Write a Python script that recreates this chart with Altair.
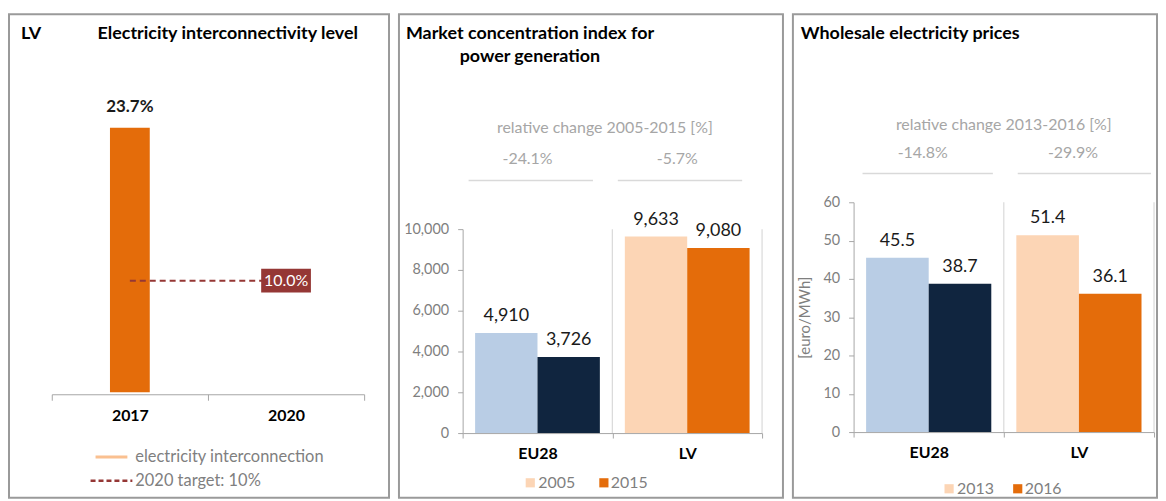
import altair as alt
import pandas as pd

FONT = "Lato"
H = 486

# ---------------- Panel 1 : Electricity interconnectivity level ----------------
p1_country = ["LV"]
p1_title = ["Electricity interconnectivity level"]
p1_categories = ["2017", "2020"]
p1_bar_categories = ["2017"]
p1_bar_values = [23.7]
p1_target_categories = ["2017", "2020"]
p1_target_values = [10.0, 10.0]
p1_target_label_category = ["2020"]
p1_target_label_value = [10.0]
p1_target_label_text = ["10.0%"]
p1_legend = ["electricity interconnection", "2020 target: 10%"]

# ---------------- Panel 2 : Market concentration index ----------------
p2_title_1 = ["Market concentration index for"]
p2_title_2 = ["power generation"]
p2_header = ["relative change 2005-2015 [%]"]
p2_region_order = ["EU28", "LV"]
p2_regions = ["EU28", "EU28", "LV", "LV"]
p2_years = ["2005", "2015", "2005", "2015"]
p2_values = [4910, 3726, 9633, 9080]
p2_changes = ["-24.1%", "-5.7%"]
p2_ticks = [0, 2000, 4000, 6000, 8000, 10000]
p2_legend = ["2005", "2015"]

# ---------------- Panel 3 : Wholesale electricity prices ----------------
p3_title = ["Wholesale electricity prices"]
p3_header = ["relative change 2013-2016 [%]"]
p3_region_order = ["EU28", "LV"]
p3_regions = ["EU28", "EU28", "LV", "LV"]
p3_years = ["2013", "2016", "2013", "2016"]
p3_values = [45.5, 38.7, 51.4, 36.1]
p3_changes = ["-14.8%", "-29.9%"]
p3_ticks = [0, 10, 20, 30, 40, 50, 60]
p3_legend = ["2013", "2016"]
p3_y_title = "[euro/MWh]"

# colours
C_LBLUE = "#b9cde5"
C_NAVY = "#10253f"
C_PEACH = "#fcd5b5"
C_ORANGE = "#e46c0a"
C_RED = "#953735"
C_LEG_LINE = "#fac090"
C_GRAY = "#7f7f7f"
C_HEAD = "#a6a6a6"
C_AXIS = "#a6a6a6"
C_GRID = "#d9d9d9"
C_TEXT = "#1a1a1a"


def text_layer(texts, x, y, size=15, weight="normal", color="#000000", align="left", angle=0):
    return alt.Chart(pd.DataFrame({"t": texts})).mark_text(
        align=align, baseline="middle", fontSize=size, fontWeight=weight,
        color=color, font=FONT, angle=angle
    ).encode(x=alt.value(x), y=alt.value(y), text="t:N")


def hline(x1, x2, y, color, width=1.5, dash=None):
    kw = dict(color=color, strokeWidth=width)
    if dash:
        kw["strokeDash"] = dash
    return alt.Chart(pd.DataFrame({"k": [0]})).mark_rule(**kw).encode(
        x=alt.value(x1), x2=alt.value(x2), y=alt.value(y))


def square(x, y, color):
    return alt.Chart(pd.DataFrame({"k": [0]})).mark_square(
        size=85, color=color, opacity=1).encode(x=alt.value(x), y=alt.value(y))


# ======================= Panel 1 =======================
W1 = 382
p1_base_y = 380
p1_x = alt.X("cat:N",
             scale=alt.Scale(domain=p1_categories, range=[43, 357], paddingInner=0, paddingOuter=0),
             axis=alt.Axis(orient="bottom", offset=-(H - 382), title=None, labelAngle=0,
                           labelFontSize=16, labelFontWeight="bold", labelColor="#000000",
                           labelPadding=7, tickBand="extent", tickSize=6, tickColor=C_AXIS,
                           domainColor=C_AXIS, grid=False, labelFont=FONT))
p1_y = alt.Y("value:Q",
             scale=alt.Scale(domain=[0, 25], range=[p1_base_y, p1_base_y - 25 * 11.22], nice=False),
             axis=None)

p1_bar_df = pd.DataFrame({"cat": p1_bar_categories, "value": p1_bar_values})
p1_bars = alt.Chart(p1_bar_df).mark_bar(size=40, color=C_ORANGE).encode(x=p1_x, y=p1_y)
p1_bar_text = alt.Chart(p1_bar_df).transform_calculate(
    lbl="format(datum.value, '.1f') + '%'"
).mark_text(dy=-21, fontSize=17, fontWeight="bold", color=C_TEXT, font=FONT).encode(
    x=p1_x, y=p1_y, text="lbl:N")

p1_target_df = pd.DataFrame({"cat": p1_target_categories, "value": p1_target_values})
p1_target = alt.Chart(p1_target_df).mark_line(
    color=C_RED, strokeWidth=2, strokeDash=[6, 4]).encode(x=p1_x, y=p1_y)

p1_tl_df = pd.DataFrame({"cat": p1_target_label_category, "value": p1_target_label_value,
                         "t": p1_target_label_text})
p1_box = alt.Chart(p1_tl_df).mark_point(
    shape="M-1,-0.48L1,-0.48L1,0.48L-1,0.48Z", filled=True, size=2500,
    color=C_RED, opacity=1).encode(x=p1_x, y=p1_y)
p1_box_text = alt.Chart(p1_tl_df).mark_text(
    fontSize=16, color="#ffffff", font=FONT).encode(x=p1_x, y=p1_y, text="t:N")

panel1 = alt.layer(
    p1_bars, p1_bar_text, p1_target, p1_box, p1_box_text,
    text_layer(p1_country, 12, 20, size=18, weight="bold"),
    text_layer(p1_title, 89, 20, size=18, weight="bold"),
    hline(87, 119, 445, C_LEG_LINE, width=3),
    text_layer([p1_legend[0]], 127, 445, size=16.5, color=C_GRAY),
    hline(82, 124, 469, C_RED, width=2.5, dash=[5, 3]),
    text_layer([p1_legend[1]], 127, 469, size=16.5, color=C_GRAY),
).properties(width=W1, height=H)


# ======================= grouped panels =======================
def grouped_panel(regions, years, values, region_order, W, x_range, y_domain, y_range,
                  ticks, axis_fmt, label_fmt, base_y, titles, header, header_xy,
                  changes, change_y, change_dx, lines, line_y, legend_labels, legend_pos,
                  legend_y, y_title=None, y_title_pad=0):
    df = pd.DataFrame({"region": regions, "year": years, "value": values})
    df["series"] = df["region"] + " " + df["year"]
    yrs = sorted(set(years))
    series_domain = [f"{r} {y}" for r in region_order for y in yrs]
    series_colors = [C_LBLUE, C_NAVY, C_PEACH, C_ORANGE]
    bandwidth = (x_range[1] - x_range[0]) / len(region_order)

    x_scale = alt.Scale(domain=region_order, range=x_range, paddingInner=0, paddingOuter=0)
    x_axis = alt.Axis(orient="bottom", offset=-(H - base_y), title=None, labelAngle=0,
                      labelFontSize=16, labelFontWeight="bold", labelColor="#000000",
                      labelPadding=8, tickBand="extent", tickSize=5, tickColor=C_AXIS,
                      domainColor=C_AXIS, grid=False, labelFont=FONT)
    x = alt.X("region:N", scale=x_scale, axis=x_axis)
    x_edge = alt.X("region:N", scale=x_scale, axis=x_axis, bandPosition=1)

    yaxis_kw = dict(orient="left", offset=-x_range[0], values=ticks, format=axis_fmt,
                    grid=False, tickSize=5, tickColor=C_AXIS, domainColor=C_AXIS,
                    labelColor=C_GRAY, labelFontSize=14.5, labelPadding=9, labelFont=FONT)
    if y_title:
        yaxis_kw.update(title=y_title, titleColor=C_GRAY, titleFontSize=15,
                        titleFontWeight="normal", titlePadding=y_title_pad, titleFont=FONT)
    else:
        yaxis_kw.update(title=None)
    y = alt.Y("value:Q", scale=alt.Scale(domain=y_domain, range=y_range, nice=False),
              axis=alt.Axis(**yaxis_kw))
    xo = alt.XOffset("year:N", scale=alt.Scale(domain=yrs, range=[0, bandwidth],
                                               paddingOuter=0.2, paddingInner=0))

    sep_df = pd.DataFrame({"region": region_order})
    separators = alt.Chart(sep_df).mark_rule(color=C_GRID, strokeWidth=1.2).encode(
        x=x_edge, y=alt.datum(y_domain[0]), y2=alt.datum(y_domain[1]))

    bars = alt.Chart(df).mark_bar().encode(
        x=x, xOffset=xo, y=y,
        color=alt.Color("series:N", scale=alt.Scale(domain=series_domain, range=series_colors),
                        legend=None))
    labels = alt.Chart(df).mark_text(
        dy=-17, fontSize=18, color=C_TEXT, font=FONT).encode(
        x=x, xOffset=xo, y=y, text=alt.Text("value:Q", format=label_fmt))

    ch_df = pd.DataFrame({"region": region_order, "change": changes})
    ch_text = alt.Chart(ch_df).mark_text(
        dx=change_dx, fontSize=16, color=C_HEAD, font=FONT, baseline="middle").encode(
        x=x, y=alt.value(change_y), text="change:N")

    layers = [separators, bars, labels, ch_text,
              text_layer(header, header_xy[0], header_xy[1], size=16, color=C_HEAD, align="center")]
    for (tx, ty), t in titles:
        layers.append(text_layer(t, tx, ty, size=18, weight="bold"))
    for (a, b) in lines:
        layers.append(hline(a, b, line_y, C_GRID, width=1.5))
    leg_colors = [C_PEACH, C_ORANGE]
    for i, lab in enumerate(legend_labels):
        sx, tx = legend_pos[i]
        layers.append(square(sx, legend_y, leg_colors[i]))
        layers.append(text_layer([lab], tx, legend_y, size=16, color=C_GRAY))
    return alt.layer(*layers).properties(width=W, height=H)


W2 = 386
panel2 = grouped_panel(
    p2_regions, p2_years, p2_values, p2_region_order, W2,
    x_range=[64, 365], y_domain=[0, 10000], y_range=[421, 216],
    ticks=p2_ticks, axis_fmt=",.0f", label_fmt=",.0f", base_y=421,
    titles=[((7, 20), p2_title_1), ((61, 43), p2_title_2)],
    header=p2_header, header_xy=(207, 114),
    changes=p2_changes, change_y=146, change_dx=-10,
    lines=[(70, 195), (220, 345)], line_y=167,
    legend_labels=p2_legend, legend_pos=[(132, 140), (206, 213)], legend_y=471,
)

W3 = 366
panel3 = grouped_panel(
    p3_regions, p3_years, p3_values, p3_region_order, W3,
    x_range=[61, 363], y_domain=[0, 60], y_range=[420, 189],
    ticks=p3_ticks, axis_fmt="d", label_fmt=".1f", base_y=420,
    titles=[((8, 20), p3_title)],
    header=p3_header, header_xy=(212, 111),
    changes=p3_changes, change_y=140, change_dx=-6,
    lines=[(70, 201), (226, 360)], line_y=160,
    legend_labels=p3_legend, legend_pos=[(157, 165), (226, 233)], legend_y=477,
    y_title=p3_y_title, y_title_pad=10,
)

chart = alt.hconcat(panel1, panel2, panel3, spacing=8).resolve_scale(
    xOffset="independent", color="independent"
).properties(
    padding={"left": 0, "top": 4, "right": 0, "bottom": 0}
).configure(font=FONT).configure_view(stroke="#9a9a9a", strokeWidth=2)

chart.save("out.html", embed_options={"renderer": "svg", "actions": False})
